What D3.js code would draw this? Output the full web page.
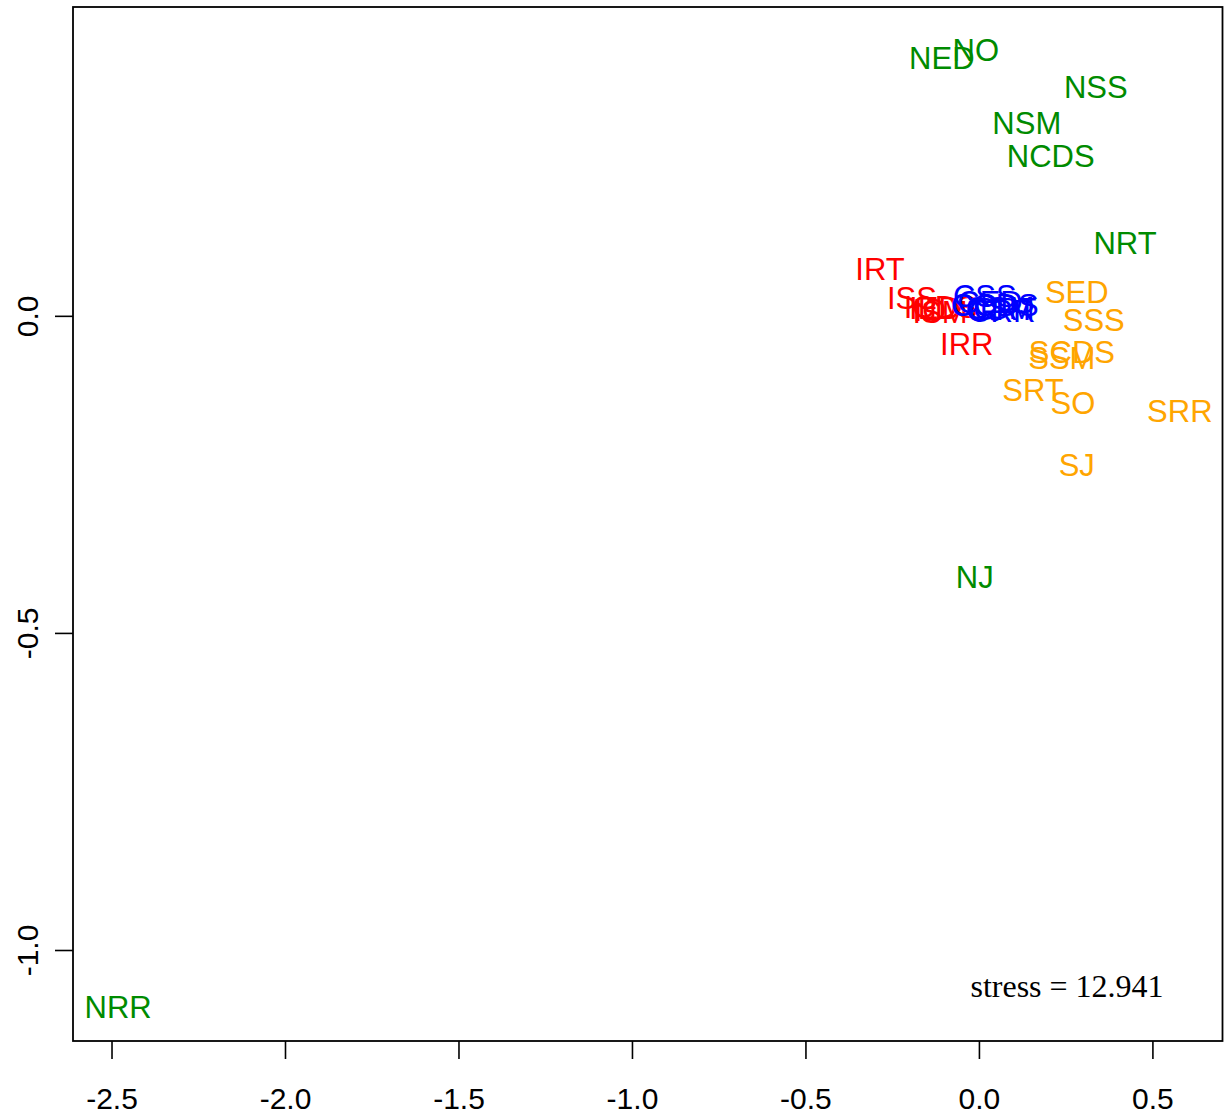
<!DOCTYPE html>
<html>
<head>
<meta charset="utf-8">
<script src="https://cdn.jsdelivr.net/npm/d3@7"></script>
<style>
  html, body { margin: 0; padding: 0; background: #fff; }
  svg { display: block; }
</style>
</head>
<body>
<svg id="chart" width="1224" height="1115"></svg>
<script>
// NMDS ordination: label text, coordinates and group of each item
const labels = [
  "NED", "NO", "NSS", "NSM", "NCDS", "NRT", "NJ", "NRR",
  "SED", "SSS", "SCDS", "SSM", "SRT", "SO", "SRR", "SJ",
  "IRT", "ISS", "IRR", "ICDS", "IED", "ISM", "IO", "IJ",
  "CSS", "CED", "CO", "CSM", "CCDS", "CRT", "CJ", "CRR"
];
const dim1 = [
  -0.107, -0.009, 0.337, 0.138, 0.207, 0.421, -0.012, -2.481,
  0.282, 0.331, 0.268, 0.239, 0.156, 0.271, 0.579, 0.282,
  -0.285, -0.193, -0.035, -0.110, -0.127, -0.112, -0.141, -0.156,
  0.017, 0.032, -0.012, 0.061, 0.046, 0.075, 0.017, 0.066
];
const dim2 = [
  0.407, 0.420, 0.361, 0.304, 0.252, 0.115, -0.412, -1.090,
  0.038, -0.006, -0.057, -0.066, -0.117, -0.137, -0.150, -0.235,
  0.074, 0.028, -0.044, 0.014, 0.013, 0.006, 0.009, 0.009,
  0.032, 0.022, 0.017, 0.013, 0.017, 0.011, 0.009, 0.008
];
const groups = [
  "N", "N", "N", "N", "N", "N", "N", "N",
  "S", "S", "S", "S", "S", "S", "S", "S",
  "I", "I", "I", "I", "I", "I", "I", "I",
  "C", "C", "C", "C", "C", "C", "C", "C"
];
const groupNames = ["N", "S", "I", "C"];
const groupColors = ["#008B00", "#FFA500", "#FF0000", "#0000FF"];

const xTicks = [-2.5, -2.0, -1.5, -1.0, -0.5, 0.0, 0.5];
const yTicks = [-1.0, -0.5, 0.0];
const xLimits = [-2.611, 0.702];
const yLimits = [-1.1435, 0.487];
const stressText = "stress = 12.941";

const svg = d3.select("#chart");
const plotLeft = 73, plotRight = 1222.5, plotTop = 7, plotBottom = 1041;

const x = d3.scaleLinear().domain(xLimits).range([plotLeft, plotRight]);
const y = d3.scaleLinear().domain(yLimits).range([plotBottom, plotTop]);
const color = d3.scaleOrdinal().domain(groupNames).range(groupColors);

const fmt = d => d.toFixed(1);

// bottom axis
const xAxis = d3.axisBottom(x).tickValues(xTicks).tickFormat(fmt)
  .tickSize(18).tickPadding(29);
svg.append("g")
  .attr("transform", `translate(0,${plotBottom})`)
  .call(xAxis)
  .call(g => g.select(".domain").remove())
  .call(g => g.selectAll("line").attr("stroke", "#000").attr("stroke-width", 1.6))
  .call(g => g.selectAll("text")
    .attr("fill", "#000")
    .attr("font-family", "'Liberation Sans', Arial, sans-serif")
    .attr("font-size", 30));

// left axis with rotated labels
const yAxis = d3.axisLeft(y).tickValues(yTicks).tickFormat(fmt)
  .tickSize(18).tickPadding(0);
svg.append("g")
  .attr("transform", `translate(${plotLeft},0)`)
  .call(yAxis)
  .call(g => g.select(".domain").remove())
  .call(g => g.selectAll("line").attr("stroke", "#000").attr("stroke-width", 1.6))
  .call(g => g.selectAll("text")
    .attr("fill", "#000")
    .attr("font-family", "'Liberation Sans', Arial, sans-serif")
    .attr("font-size", 30)
    .attr("x", null).attr("dy", null)
    .attr("text-anchor", "middle")
    .attr("transform", "translate(-35,0) rotate(-90)")
    .attr("y", 0));

// plot frame
svg.append("rect")
  .attr("x", plotLeft).attr("y", plotTop)
  .attr("width", plotRight - plotLeft).attr("height", plotBottom - plotTop)
  .attr("fill", "none").attr("stroke", "#000").attr("stroke-width", 1.8);

// point labels centred on their coordinates
const fs = 31;
svg.append("g")
  .selectAll("text")
  .data(labels.map((t, i) => ({ t, x: dim1[i], y: dim2[i], g: groups[i] })))
  .join("text")
  .attr("x", d => x(d.x))
  .attr("y", d => y(d.y) + fs * 0.36)
  .attr("text-anchor", "middle")
  .attr("font-family", "'Liberation Sans', Arial, sans-serif")
  .attr("font-size", fs)
  .attr("fill", d => color(d.g))
  .text(d => d.t);

// stress annotation
svg.append("text")
  .attr("x", 1067).attr("y", 997)
  .attr("text-anchor", "middle")
  .attr("font-family", "'Liberation Serif', 'Times New Roman', serif")
  .attr("font-size", 32)
  .attr("fill", "#000")
  .text(stressText);
</script>
</body>
</html>
